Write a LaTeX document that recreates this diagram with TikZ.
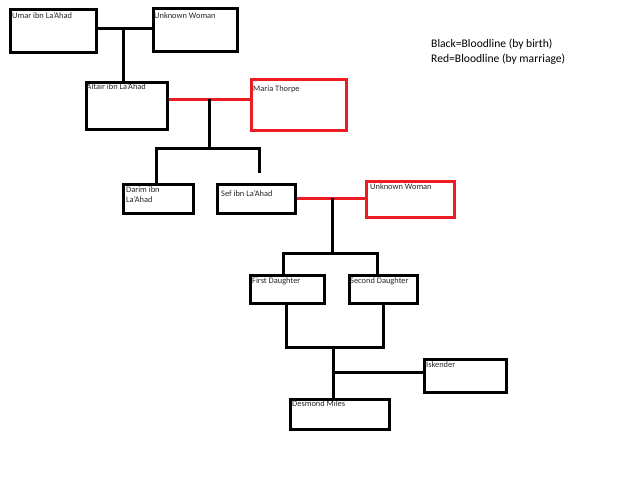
\documentclass[tikz,border=0pt]{standalone}
\usepackage{fontspec}
\setmainfont{Carlito}
\definecolor{pred}{RGB}{237,28,36}
\tikzset{
  box/.style={draw=black, line width=3pt, anchor=north west, inner sep=0pt},
  redbox/.style={box, draw=pred},
  lbl/.style={anchor=base west, inner sep=0pt, font=\fontsize{8.4}{10}\selectfont, text=black!85},
  leg/.style={anchor=base west, inner sep=0pt, font=\fontsize{11.6}{14}\selectfont},
  bl/.style={draw=black, line width=3pt},
  rl/.style={draw=pred, line width=3pt}
}
\begin{document}
\begin{tikzpicture}[x=1pt,y=-1pt]
\useasboundingbox (0,0) rectangle (625,479);
% boxes
\node[box, minimum width=86pt, minimum height=43pt] (umar) at (8.5,7.5) {};
\node[box, minimum width=84pt, minimum height=43pt] (uw1) at (151.5,6.5) {};
\node[box, minimum width=81pt, minimum height=47pt] (altair) at (84.5,80.5) {};
\node[redbox, minimum width=95pt, minimum height=51pt] (maria) at (249.5,77.5) {};
\node[box, minimum width=70pt, minimum height=29pt] (darim) at (121.5,182.5) {};
\node[box, minimum width=78pt, minimum height=29pt] (sef) at (215.5,182.5) {};
\node[redbox, minimum width=88pt, minimum height=36pt] (uw2) at (364.5,179.5) {};
\node[box, minimum width=74pt, minimum height=28pt] (first) at (248.5,273.5) {};
\node[box, minimum width=68pt, minimum height=28pt] (second) at (347.5,273.5) {};
\node[box, minimum width=82pt, minimum height=33pt] (isk) at (422.5,357.5) {};
\node[box, minimum width=99pt, minimum height=30pt] (desmond) at (288.5,397.5) {};
% labels
\node[lbl] (tumar) at (12,19) {Umar ibn La'Ahad};
\node[lbl] (tuw1) at (154,19) {Unknown Woman};
\node[lbl] (taltair) at (86.5,89) {Altair ibn La'Ahad};
\node[lbl] (tmaria) at (253,92) {Maria Thorpe};
\node[lbl, align=left] (tdarim) at (126,202) {Darim ibn\\La'Ahad};
\node[lbl] (tsef) at (221,196) {Sef ibn La'Ahad};
\node[lbl] (tuw2) at (370,189) {Unknown Woman};
\node[lbl] (tfirst) at (252,283) {First Daughter};
\node[lbl] (tsecond) at (350,283) {Second Daughter};
\node[lbl] (tisk) at (426,367) {Iskender};
\node[lbl] (tdes) at (292,406) {Desmond Miles};
\node[leg] (leg1) at (431,48) {Black=Bloodline (by birth)};
\node[leg] (leg2) at (431,63) {Red=Bloodline (by marriage)};
% junctions
\coordinate (j1) at (123,28);
\coordinate (j2) at (209,99);
\coordinate (b1) at (209,148);
\coordinate (b1r) at (259,173);
\coordinate (j3) at (332,198);
\coordinate (b2) at (332,253);
\coordinate (b3) at (333,347);
\coordinate (j4) at (333,372);
% connectors
\draw[bl] (j1 -| umar.east) -- (j1 -| uw1.west);
\draw[bl] (j1) -- (j1 |- altair.north);
\draw[rl] (j2 -| altair.east) -- (j2 -| maria.west);
\draw[bl] (j2) -- (b1);
\draw[bl] (156,0 |- darim.north) -- (156,148) -- (b1r |- b1) -- (b1r);
\draw[rl] (j3 -| sef.east) -- (j3 -| uw2.west);
\draw[bl] (j3) -- (b2);
\draw[bl] (283,0 |- first.north) -- (283,253) -- (377,253) -- (377,0 |- second.north);
\draw[bl] (286,0 |- first.south) -- (286,347) -- (383,347) -- (383,0 |- second.south);
\draw[bl] (b3) -- (b3 |- desmond.north);
\draw[bl] (j4) -- (j4 -| isk.west);
\end{tikzpicture}
\end{document}
